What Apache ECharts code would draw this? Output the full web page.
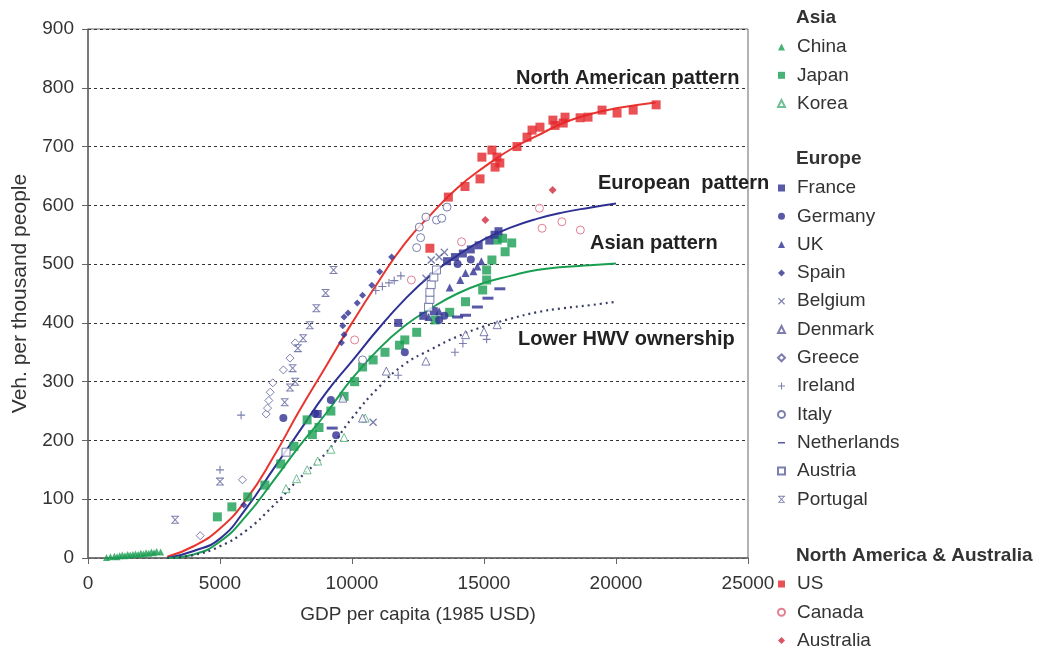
<!DOCTYPE html>
<html><head><meta charset="utf-8">
<script src="https://cdn.jsdelivr.net/npm/echarts@6/dist/echarts.min.js"></script>
<style>html,body{margin:0;padding:0;background:#fff}#c{width:1047px;height:652px}</style>
</head><body><div id="c"></div>
<script>
// ---- data (GDP per capita 1985 USD, vehicles per thousand people) ----
const xTicks = [0, 5000, 10000, 15000, 20000, 25000];
const yTicks = [0, 100, 200, 300, 400, 500, 600, 700, 800, 900];

const china = [[700,1],[850,2],[1000,3],[1100,2],[1200,4],[1300,5],[1400,4],[1500,6],[1600,5],[1700,6],[1800,7],[1900,6],[2000,8],[2100,7],[2200,9],[2300,8],[2400,10],[2500,9],[2600,11],[2750,10]];
const japan = [[4900,70],[5450,87],[6050,104],[6700,124],[7300,160],[7800,190],[8300,235],[8500,210],[8750,222],[9200,250],[9700,275],[10100,300],[10400,325],[10800,337],[11250,350],[11800,362],[12000,371],[12450,384],[13150,405],[13700,418],[14300,436],[14950,456],[15100,473],[15100,490],[15300,507],[15800,521],[15500,541],[15700,544],[16050,536]];
const korea = [[7500,118],[7900,135],[8300,150],[8700,165],[9200,185],[9700,205],[10500,238]];

const france = [[8700,245],[11750,400],[12700,412],[13100,420],[13600,505],[13900,512],[14200,518],[14500,525],[14800,532],[15200,540],[15400,550],[15550,556]];
const germany = [[7400,238],[8600,246],[9200,269],[9400,209],[12000,350],[13300,405],[13500,412],[14000,500],[14500,508]];
const uk = [[12900,410],[13300,420],[13700,460],[14100,473],[14300,485],[14600,488],[14750,496],[14900,505]];
const spain = [[5900,90],[9600,366],[9700,380],[9650,395],[9700,410],[9850,417],[10200,434],[10400,447],[10750,464],[11050,487],[11500,512]];
const belgium = [[10800,231],[12800,476],[13000,507],[13300,512],[13500,520]];
const denmark = [[9650,272],[10400,238],[11300,318],[12800,335],[14300,380],[15000,385],[15500,397]];
const greece = [[4250,38],[5850,133],[6750,245],[6800,255],[6850,268],[6900,282],[7000,298],[7400,320],[7650,340],[7850,366]];
const ireland = [[5000,150],[5800,243],[10900,455],[11150,462],[11400,468],[11600,472],[11850,480],[11750,311],[13900,350],[14200,365],[15100,372]];
const italy = [[10400,337],[12450,528],[12600,545],[12550,563],[12800,580],[13200,575],[13400,578],[13600,597]];
const netherlands = [[9250,221],[14000,410],[14300,413],[14750,427],[15150,442],[15600,458]];
const austria = [[7500,180],[12900,427],[12950,440],[12950,452],[13000,465],[13100,478],[13200,490]];
const portugal = [[3300,65],[5000,130],[7450,265],[7650,290],[7850,300],[7750,323],[7950,357],[8150,374],[8400,396],[8650,425],[9000,451],[9300,490]];

const us = [[12950,527],[13650,614],[14280,632],[14850,645],[14920,682],[15300,694],[15490,682],[15420,665],[15600,672],[16250,700],[16630,716],[16820,728],[17120,733],[17610,745],[17690,736],[18070,750],[18000,740],[18640,749],[18940,750],[19470,762],[20040,757],[20650,762],[21520,771]];
const canada = [[10100,371],[12250,473],[14150,538],[17100,595],[17200,561],[17950,572],[18650,558]];
const australia = [[15050,575],[17600,626]];

const curveNA = [[3000,2],[4000,20],[5000,50],[6000,100],[7000,170],[8000,250],[9000,325],[10000,400],[11000,470],[12000,535],[13000,585],[14000,630],[15000,665],[16000,695],[17000,718],[18000,740],[19000,755],[20000,765],[21500,775]];
const curveEU = [[3000,0],[4000,12],[5000,33],[6000,85],[7000,150],[8000,215],[9000,280],[10000,335],[11000,390],[12000,440],[13000,482],[14000,515],[15000,542],[16000,562],[17000,577],[18000,588],[19000,596],[20000,603]];
const curveAS = [[3000,0],[4000,6],[5000,28],[6000,72],[7000,130],[8000,190],[9000,245],[10000,305],[11000,355],[12000,395],[13000,425],[14000,450],[15000,468],[16000,480],[17000,490],[18000,495],[19000,498],[20000,501]];
const curveLow = [[3000,0],[4000,5],[5000,20],[6000,47],[7000,88],[8000,135],[9000,178],[10000,238],[11000,290],[12000,330],[13000,355],[14000,377],[15000,394],[16000,407],[17000,418],[18000,425],[19000,430],[20000,436]];

const asiaNames = ['China','Japan','Korea'];
const europeNames = ['France','Germany','UK','Spain','Belgium','Denmark','Greece','Ireland','Italy','Netherlands','Austria','Portugal'];
const naNames = ['US','Canada','Australia'];
const headers = ['Asia','Europe','North America & Australia'];
const curveLabels = ['North American pattern','European  pattern','Asian pattern','Lower HWV ownership'];

// ---- styling ----
const GREEN = '#1a9e52', LGREEN = '#4cae78', NAVY = '#2e3192', GREY = '#5b5f98', RED = '#e5262b', PINK = '#d9607a';
const FONT = '"Liberation Sans", Arial, sans-serif';
const FS = 19;
const P_X = 'path://M0,1.2 L1.2,0 L5,3.8 L8.8,0 L10,1.2 L6.2,5 L10,8.8 L8.8,10 L5,6.2 L1.2,10 L0,8.8 L3.8,5 Z';
const P_PLUS = 'path://M4.3,0 H5.7 V4.3 H10 V5.7 H5.7 V10 H4.3 V5.7 H0 V4.3 H4.3 Z';
const P_DASH = 'path://M0,0 H10 V2.5 H0 Z';
const P_DASH_LEG = 'path://M0,0 L0,0 Z M0,4 H10 V6.2 H0 Z M10,10 L10,10 Z';
const P_PORT = 'path://M0,0 H10 V1.3 H0 Z M0,8.7 H10 V10 H0 Z M0.8,1.3 L2.2,1.3 L5,4.1 L7.8,1.3 L9.2,1.3 L5.9,5 L9.2,8.7 L7.8,8.7 L5,5.9 L2.2,8.7 L0.8,8.7 L4.1,5 Z';

function sc(name, data, symbol, size, color, hollow) {
  return {
    name, type: 'scatter', data, symbol, symbolSize: size, z: 3,
    itemStyle: hollow ? { color: '#fff', borderColor: color, borderWidth: 1 } : { color: color },
    emphasis: { disabled: true }
  };
}
function curve(data, color, dotted) {
  return {
    type: 'line', data, smooth: 0.5, showSymbol: false, symbol: 'none', z: 2, silent: true,
    lineStyle: { color, width: dotted ? 2.2 : 2, type: dotted ? [2, 4] : 'solid' }
  };
}

const series = [
  curve(curveNA, '#e8352e'), curve(curveEU, '#2e3192'), curve(curveAS, '#1a9e52'), curve(curveLow, '#3a3f66', true),
  sc('China', china, 'triangle', 7, GREEN),
  sc('Japan', japan, 'rect', 9, GREEN),
  sc('Korea', korea, 'triangle', 8, LGREEN, true),
  sc('France', france, 'rect', 8, NAVY),
  sc('Germany', germany, 'circle', 8, NAVY),
  sc('UK', uk, 'triangle', 8, NAVY),
  sc('Spain', spain, 'diamond', 7, NAVY),
  sc('Belgium', belgium, P_X, 8, GREY),
  sc('Denmark', denmark, 'triangle', 8, GREY, true),
  sc('Greece', greece, 'diamond', 8, GREY, true),
  sc('Ireland', ireland, P_PLUS, 8, GREY),
  sc('Italy', italy, 'circle', 8, GREY, true),
  sc('Netherlands', netherlands, P_DASH, [11, 3], NAVY),
  sc('Austria', austria, 'rect', 8, GREY, true),
  sc('Portugal', portugal, P_PORT, 8, GREY),
  sc('US', us, 'rect', 9, RED),
  sc('Canada', canada, 'circle', 8, PINK, true),
  sc('Australia', australia, 'diamond', 8, '#d12a3c')
];

function legend(names, top) {
  return {
    data: names.map(n => n === 'Netherlands' ? { name: n, icon: P_DASH_LEG } : n),
    orient: 'vertical', left: 777, top, padding: 0,
    itemWidth: 7, itemHeight: 7, itemGap: 6.3, selectedMode: false,
    textStyle: { fontFamily: FONT, fontSize: FS, color: '#333', lineHeight: 22, padding: [0, 0, 0, 7] }
  };
}

const hdrY = [19, 160, 557];
const annot = [
  { t: curveLabels[0], x: 516, y: 80 },
  { t: curveLabels[1], x: 598, y: 185 },
  { t: curveLabels[2], x: 590, y: 245 },
  { t: curveLabels[3], x: 518, y: 341 }
];
const graphic = [];
headers.forEach((h, i) => graphic.push({ type: 'text', left: 796, top: hdrY[i] - 11, style: { text: h, fontFamily: FONT, fontSize: FS, fontWeight: 'bold', fill: '#333' } }));
annot.forEach(a => graphic.push({ type: 'text', left: a.x, top: a.y - 12, z: 10, style: { text: a.t, fontFamily: FONT, fontSize: 20, fontWeight: 'bold', fill: '#222' } }));

const option = {
  animation: false,
  backgroundColor: '#fff',
  grid: { left: 88, top: 29, width: 660, height: 529, show: true, borderColor: '#666', borderWidth: 1, backgroundColor: 'transparent' },
  xAxis: {
    type: 'value', min: xTicks[0], max: xTicks[xTicks.length - 1], interval: 5000,
    name: 'GDP per capita (1985 USD)', nameLocation: 'middle', nameGap: 47,
    nameTextStyle: { fontFamily: FONT, fontSize: FS, color: '#333' },
    axisLine: { show: true, lineStyle: { color: '#666', width: 1.5 } },
    axisTick: { show: true, length: 6, lineStyle: { color: '#666' } },
    axisLabel: { fontFamily: FONT, fontSize: FS, color: '#333', margin: 16, formatter: v => String(v) },
    splitLine: { show: false }
  },
  yAxis: {
    type: 'value', min: yTicks[0], max: yTicks[yTicks.length - 1], interval: 100,
    name: 'Veh. per thousand people', nameLocation: 'middle', nameGap: 57,
    nameTextStyle: { fontFamily: FONT, fontSize: 21, color: '#333' },
    axisLine: { show: true, lineStyle: { color: '#666', width: 1.5 } },
    axisTick: { show: true, length: 6, lineStyle: { color: '#666' } },
    axisLabel: { fontFamily: FONT, fontSize: FS, color: '#333', margin: 14, formatter: v => String(v) },
    splitLine: { show: true, lineStyle: { color: '#333', width: 1, type: [3, 3] } }
  },
  legend: [legend(asiaNames, 36), legend(europeNames, 177), legend(naNames, 573)],
  graphic,
  series
};
echarts.init(document.getElementById('c'), null, { renderer: 'canvas' }).setOption(option);
</script>
</body></html>
